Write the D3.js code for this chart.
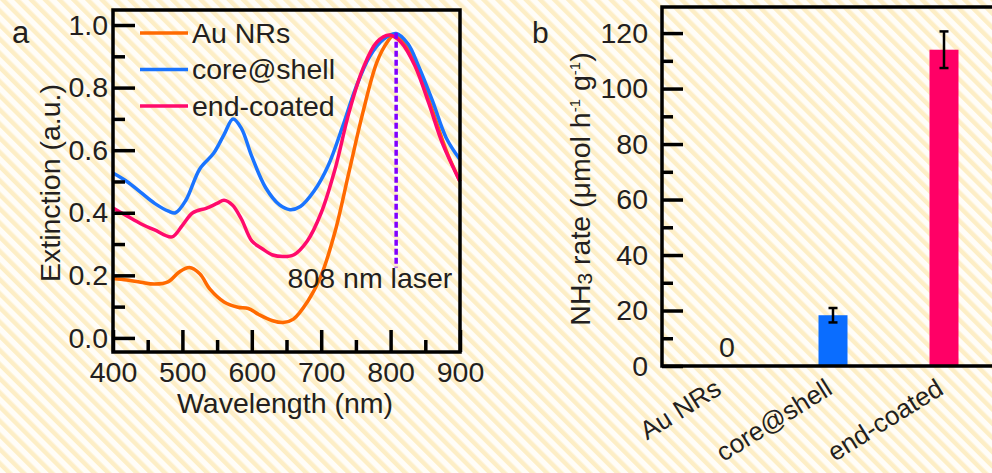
<!DOCTYPE html>
<html lang="en">
    <head>
        <meta charset="utf-8">
        <title>Extinction spectra and NH3 rate</title>
        <script src="https://d3js.org/d3.v7.min.js"></script>
        <style type="text/css">
            body { margin: 0; background: #fffdf8; }
            text { font-family: "Liberation Sans", Arial, sans-serif; fill: #231f20; }
        </style>
    </head>
    <body>
        <script type="text/javascript">

            const svgW = 992;
            const svgH = 473;
            const fs = 28.5;

            // panel a: extinction spectra (wavelength nm, extinction a.u.)
            const auNRs = [
                [400, 0.19], [420, 0.185], [440, 0.178], [460, 0.172], [480, 0.18], [495, 0.21],
                [510, 0.225], [525, 0.205], [540, 0.155], [560, 0.115], [580, 0.098], [595, 0.094],
                [610, 0.075], [630, 0.055], [645, 0.049], [660, 0.06], [680, 0.115], [700, 0.2],
                [720, 0.34], [740, 0.53], [760, 0.72], [780, 0.88], [795, 0.945], [805, 0.968],
                [820, 0.945], [840, 0.85], [860, 0.73], [880, 0.6], [900, 0.5]
            ];
            const coreShell = [
                [400, 0.527], [420, 0.5], [440, 0.465], [460, 0.43], [480, 0.405], [490, 0.4],
                [505, 0.44], [525, 0.54], [545, 0.59], [560, 0.65], [573, 0.7], [585, 0.67],
                [600, 0.58], [620, 0.48], [640, 0.425], [655, 0.41], [670, 0.42], [690, 0.47],
                [710, 0.55], [730, 0.67], [750, 0.8], [770, 0.9], [790, 0.955], [808, 0.973],
                [825, 0.94], [840, 0.87], [860, 0.76], [880, 0.64], [900, 0.57]
            ];
            const endCoated = [
                [400, 0.415], [420, 0.39], [440, 0.365], [460, 0.345], [485, 0.323], [500, 0.36],
                [515, 0.4], [535, 0.415], [550, 0.43], [560, 0.44], [572, 0.425], [585, 0.38],
                [600, 0.31], [615, 0.285], [630, 0.265], [645, 0.26], [660, 0.265], [680, 0.31],
                [700, 0.4], [720, 0.54], [740, 0.72], [760, 0.86], [780, 0.945], [798, 0.968],
                [815, 0.945], [835, 0.87], [855, 0.75], [875, 0.62], [900, 0.5]
            ];
            const seriesNames = ["Au NRs", "core@shell", "end-coated"];
            const seriesColors = ["#ff6a00", "#1a74ff", "#ff0a6c"];
            const xTicksA = [400, 500, 600, 700, 800, 900];
            const yTicksA = [0.0, 0.2, 0.4, 0.6, 0.8, 1.0];
            const laserNm = 808;
            const laserSpan = [0.225, 0.975];

            // panel b: NH3 rate (umol h-1 g-1)
            const categories = ["Au NRs", "core@shell", "end-coated"];
            const rates = [0, 18.3, 114];
            const rateErr = [0, 2.6, 6.6];
            const yTicksB = [0, 20, 40, 60, 80, 100, 120];

            const svg = d3.select("body")
                    .append("svg")
                    .attr("width", svgW)
                    .attr("height", svgH);

            // striped background
            const pat = svg.append("defs").append("pattern")
                .attr("id", "stripes")
                .attr("patternUnits", "userSpaceOnUse")
                .attr("width", 10)
                .attr("height", 10)
                .attr("patternTransform", "rotate(-45)");
            pat.append("rect").attr("width", 10).attr("height", 10).attr("fill", "#fffdf8");
            pat.append("rect").attr("width", 4.5).attr("height", 10).attr("fill", "#fdeec6");
            svg.append("rect").attr("width", svgW).attr("height", svgH).attr("fill", "url(#stripes)");

            // ---------- panel a ----------
            const xA = d3.scaleLinear().domain([400, 900]).range([113, 460]);
            const yA = d3.scaleLinear().domain([-0.045, 1.048]).range([352, 10]);

            const gA = svg.append("g");

            const line = d3.line()
                .x(d => xA(d[0]))
                .y(d => yA(d[1]))
                .curve(d3.curveCatmullRom.alpha(0.5));

            [auNRs, coreShell, endCoated].forEach((s, i) => {
                gA.append("path")
                  .datum(s)
                  .attr("d", line)
                  .attr("fill", "none")
                  .attr("stroke", seriesColors[i])
                  .attr("stroke-width", 3.5)
                  .attr("stroke-linejoin", "round");
            });

            // laser marker
            gA.append("line")
              .attr("x1", xA(laserNm)).attr("x2", xA(laserNm))
              .attr("y1", yA(laserSpan[1])).attr("y2", yA(laserSpan[0]))
              .attr("stroke", "#8000ff")
              .attr("stroke-width", 3.5)
              .attr("stroke-dasharray", "6,3");
            gA.append("text")
              .attr("x", 370).attr("y", 288)
              .attr("text-anchor", "middle")
              .attr("font-size", fs)
              .text(laserNm + " nm laser");

            // axes with inward ticks
            gA.append("g")
              .attr("transform", "translate(0,352)")
              .call(d3.axisBottom(xA).tickValues(d3.range(450, 900, 100)).tickSize(-12).tickFormat(""))
              .call(g => g.select(".domain").remove());
            gA.append("g")
              .attr("transform", "translate(0,352)")
              .call(d3.axisBottom(xA).tickValues(xTicksA).tickSizeInner(-22).tickSizeOuter(0).tickPadding(10))
              .call(g => g.select(".domain").remove());
            gA.append("g")
              .attr("transform", "translate(113,0)")
              .call(d3.axisLeft(yA).tickValues(d3.range(0.1, 1.0, 0.2)).tickSize(-12).tickFormat(""))
              .call(g => g.select(".domain").remove());
            gA.append("g")
              .attr("transform", "translate(113,0)")
              .call(d3.axisLeft(yA).tickValues(yTicksA).tickSizeInner(-22).tickSizeOuter(0).tickPadding(5).tickFormat(d3.format(".1f")))
              .call(g => g.select(".domain").remove());

            gA.selectAll(".tick line").attr("stroke", "#000").attr("stroke-width", 3.5);
            gA.selectAll(".tick text").attr("font-size", fs).attr("fill", "#231f20");

            gA.append("rect")
              .attr("x", 113).attr("y", 10)
              .attr("width", 460 - 113).attr("height", 352 - 10)
              .attr("fill", "none").attr("stroke", "#000").attr("stroke-width", 3.5);

            // legend
            seriesNames.forEach((name, i) => {
                const ly = 33 + i * 36.5;
                gA.append("line")
                  .attr("x1", 140).attr("x2", 188)
                  .attr("y1", ly).attr("y2", ly)
                  .attr("stroke", seriesColors[i]).attr("stroke-width", 3.5);
                gA.append("text")
                  .attr("x", 192).attr("y", ly).attr("dy", "0.35em")
                  .attr("font-size", fs)
                  .text(name);
            });

            gA.append("text")
              .attr("x", 285).attr("y", 413)
              .attr("text-anchor", "middle")
              .attr("font-size", fs)
              .text("Wavelength (nm)");
            gA.append("text")
              .attr("transform", "translate(60,183) rotate(-90)")
              .attr("text-anchor", "middle")
              .attr("font-size", fs)
              .text("Extinction (a.u.)");
            svg.append("text")
              .attr("x", 12).attr("y", 43)
              .attr("font-size", 31)
              .text("a");

            // ---------- panel b ----------
            const xB = d3.scalePoint().domain(categories).range([722, 944]);
            const yB = d3.scaleLinear().domain([0, 129.4]).range([366, 7]);
            const barW = 29;
            const barColors = ["#ff6a00", "#0a6dff", "#ff0066"];

            const gB = svg.append("g");

            gB.selectAll("rect.bar")
              .data(categories)
              .enter()
              .append("rect")
              .attr("class", "bar")
              .attr("x", d => xB(d) - barW / 2)
              .attr("y", (d, i) => yB(rates[i]))
              .attr("width", barW)
              .attr("height", (d, i) => yB(0) - yB(rates[i]))
              .attr("fill", (d, i) => barColors[i]);

            // error bars
            categories.forEach((c, i) => {
                if (rateErr[i] === 0) return;
                const cx = xB(c);
                const top = yB(rates[i] + rateErr[i]);
                const bot = yB(rates[i] - rateErr[i]);
                gB.append("line").attr("x1", cx).attr("x2", cx).attr("y1", top).attr("y2", bot)
                  .attr("stroke", "#000").attr("stroke-width", 2.5);
                [top, bot].forEach(yy => {
                    gB.append("line").attr("x1", cx - 4.5).attr("x2", cx + 4.5).attr("y1", yy).attr("y2", yy)
                      .attr("stroke", "#000").attr("stroke-width", 2.5);
                });
            });

            // zero value label
            gB.append("text")
              .attr("x", xB(categories[0]) + 5).attr("y", 357)
              .attr("text-anchor", "middle")
              .attr("font-size", fs)
              .text(rates[0]);

            gB.append("g")
              .attr("transform", "translate(662,0)")
              .call(d3.axisLeft(yB).tickValues(d3.range(10, 130, 20)).tickSize(-11).tickFormat(""))
              .call(g => g.select(".domain").remove());
            gB.append("g")
              .attr("transform", "translate(662,0)")
              .call(d3.axisLeft(yB).tickValues(yTicksB).tickSizeInner(-21).tickSizeOuter(0).tickPadding(14))
              .call(g => g.select(".domain").remove());
            gB.selectAll(".tick line").attr("stroke", "#000").attr("stroke-width", 3.5);
            gB.selectAll(".tick text").attr("font-size", fs).attr("fill", "#231f20");

            // frame: left, top and bottom
            gB.append("path")
              .attr("d", "M1000,7H662V366H1000")
              .attr("fill", "none").attr("stroke", "#000").attr("stroke-width", 3.5);

            // rotated category labels
            gB.selectAll("text.cat")
              .data(categories)
              .enter()
              .append("text")
              .attr("class", "cat")
              .attr("transform", d => "translate(" + (xB(d) + 1) + ",393) rotate(-32)")
              .attr("text-anchor", "end")
              .attr("font-size", 26)
              .text(d => d);

            const yl = gB.append("text")
              .attr("transform", "translate(590,189) rotate(-90)")
              .attr("text-anchor", "middle")
              .attr("font-size", fs);
            yl.append("tspan").text("NH");
            yl.append("tspan").attr("font-size", 21).attr("dy", 2).text("3");
            yl.append("tspan").attr("dy", -2).text(" rate (\u03bcmol h");
            yl.append("tspan").attr("font-size", 15).attr("dy", -10).text("-1");
            yl.append("tspan").attr("dy", 10).text(" g");
            yl.append("tspan").attr("font-size", 15).attr("dy", -10).text("-1");
            yl.append("tspan").attr("dy", 10).text(")");

            svg.append("text")
              .attr("x", 532).attr("y", 43)
              .attr("font-size", 30)
              .text("b");

        </script>
    </body>
</html>
